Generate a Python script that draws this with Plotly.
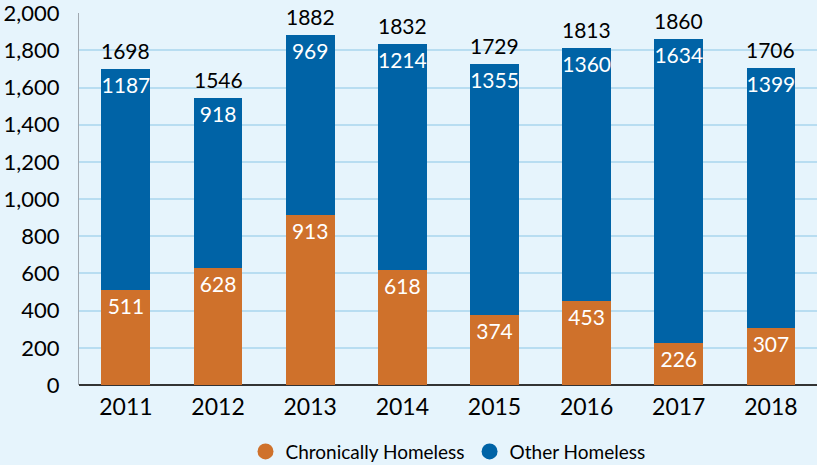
import plotly.graph_objects as go

years = ["2011", "2012", "2013", "2014", "2015", "2016", "2017", "2018"]
chronic = [511, 628, 913, 618, 374, 453, 226, 307]
other = [1187, 918, 969, 1214, 1355, 1360, 1634, 1399]
totals = [c + o for c, o in zip(chronic, other)]
y_ticks = [0, 200, 400, 600, 800, 1000, 1200, 1400, 1600, 1800, 2000]

ORANGE = "#CF712B"
BLUE = "#0063A6"
BG = "#E6F4FC"
FONT = "Lato"

fig = go.Figure()
fig.add_trace(go.Bar(x=years, y=chronic, name="Chronically Homeless", marker_color=ORANGE,
                     text=chronic, textposition="inside", insidetextanchor="end", textangle=0,
                     constraintext="none",
                     textfont=dict(color="white", size=21, family=FONT),
                     showlegend=False, marker_line_width=0))
fig.add_trace(go.Bar(x=years, y=other, name="Other Homeless", marker_color=BLUE,
                     text=other, textposition="inside", insidetextanchor="end", textangle=0,
                     constraintext="none",
                     textfont=dict(color="white", size=21, family=FONT),
                     showlegend=False, marker_line_width=0))
# total labels: on a category axis annotations use the category's serial index
for i, t in enumerate(totals):
    fig.add_annotation(x=i, y=t, text=str(t), showarrow=False, yanchor="bottom",
                       yshift=4, font=dict(color="black", size=21, family=FONT))
# legend entries with circle markers
fig.add_trace(go.Scatter(x=[years[0]], y=[None], mode="markers", name="Chronically Homeless",
                         marker=dict(color=ORANGE, size=16, symbol="circle")))
fig.add_trace(go.Scatter(x=[years[0]], y=[None], mode="markers", name="Other Homeless",
                         marker=dict(color=BLUE, size=16, symbol="circle")))

fig.update_layout(
    width=817, height=465,
    barmode="stack", bargap=0.47,
    paper_bgcolor=BG, plot_bgcolor=BG,
    margin=dict(l=79, r=0, t=13, b=80, autoexpand=False),
    font=dict(family=FONT, color="black"),
    legend=dict(orientation="h", x=0.5, xanchor="center", y=-0.128, yanchor="top",
                font=dict(size=19, family=FONT), bgcolor="rgba(0,0,0,0)",
                traceorder="normal", itemwidth=30, tracegroupgap=0),
    xaxis=dict(type="category", categoryorder="array", categoryarray=years,
               tickfont=dict(size=23, family=FONT), showgrid=False, ticks="",
               showline=False, zeroline=False, automargin=False, ticklabelstandoff=6),
    yaxis=dict(range=[0, 2001], tickmode="array", tickvals=y_ticks,
               ticktext=[f"{v:,}" for v in y_ticks], tickfont=dict(size=22, family=FONT),
               gridcolor="#B8DDF1", gridwidth=1.5, showline=True, linecolor="#A0A8B0", linewidth=1,
               zeroline=True, zerolinecolor="#333333", zerolinewidth=2, ticks="",
               ticklabelstandoff=14, automargin=False, ticklabeloverflow="allow"),
)

post = ("document.body.style.margin='0';document.body.style.padding='0';"
        "document.body.style.background='" + BG + "';")
fig.write_html("out.html", post_script=post, config={"displayModeBar": False})
